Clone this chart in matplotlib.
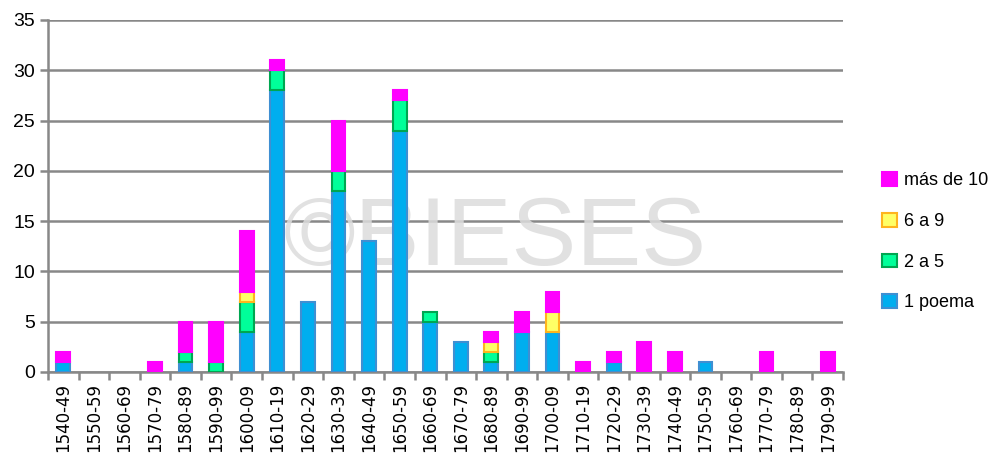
import numpy as np
from matplotlib import pyplot as plt

decades = ['1540-49', '1550-59', '1560-69', '1570-79', '1580-89', '1590-99',
           '1600-09', '1610-19', '1620-29', '1630-39', '1640-49', '1650-59',
           '1660-69', '1670-79', '1680-89', '1690-99', '1700-09', '1710-19',
           '1720-29', '1730-39', '1740-49', '1750-59', '1760-69', '1770-79',
           '1780-89', '1790-99']
un_poema = [1, 0, 0, 0, 1, 0, 4, 28, 7, 18, 13, 24, 5, 3, 1, 4, 4, 0, 1, 0, 0, 1, 0, 0, 0, 0]
dos_a_cinco = [0, 0, 0, 0, 1, 1, 3, 2, 0, 2, 0, 3, 1, 0, 1, 0, 0, 0, 0, 0, 0, 0, 0, 0, 0, 0]
seis_a_nueve = [0, 0, 0, 0, 0, 0, 1, 0, 0, 0, 0, 0, 0, 0, 1, 0, 2, 0, 0, 0, 0, 0, 0, 0, 0, 0]
mas_de_diez = [1, 0, 0, 1, 3, 4, 6, 1, 0, 5, 0, 1, 0, 0, 1, 2, 2, 1, 1, 3, 2, 0, 0, 2, 0, 2]

series = [('1 poema', un_poema, '#00aeef', '#3f8fd2'),
          ('2 a 5', dos_a_cinco, '#00ff99', '#00a651'),
          ('6 a 9', seis_a_nueve, '#ffff66', '#ffb41e'),
          ('más de 10', mas_de_diez, '#ff00ff', '#ff00ff')]

fig = plt.figure(figsize=(9.96, 4.62), dpi=100)
ax = fig.add_axes([48/996, 1 - 372/462, (843-48)/996, (372-20)/462])

x = np.arange(len(decades))
bottom = np.zeros(len(decades))
handles = []
for name, vals, fc, ec in series:
    vals = np.array(vals, dtype=float)
    nz = vals > 0
    # skip empty segments so no stray edge lines are drawn
    b = ax.bar(x[nz], vals[nz], 0.45, bottom=bottom[nz], color=fc, edgecolor=ec,
               linewidth=1.5, label=name, zorder=3)
    handles.append(b)
    bottom += vals

# watermark
ax.text(0.562, 0.375, '©BIESES', transform=ax.transAxes, fontsize=70,
        color='#dcdcdc', ha='center', va='center', zorder=1,
        family='Liberation Sans', alpha=0.85)

ax.set_xlim(-0.5, len(decades) - 0.5)
ax.set_ylim(0, 35)
ax.set_yticks(range(0, 36, 5))
ax.yaxis.grid(True, color='#888888', linewidth=1.8, zorder=0)
ax.set_axisbelow(True)

ax.set_xticks(x)
ax.set_xticklabels(decades, rotation=90, fontsize=12, family='DejaVu Sans')
ax.set_xticks(np.arange(-0.5, len(decades)), minor=True)
ax.tick_params(axis='x', which='major', length=0, pad=8)
ax.tick_params(axis='x', which='minor', length=6, width=1.8, color='#888888')
ax.tick_params(axis='y', length=6, width=1.8, color='#888888', labelsize=14)
for lab in ax.get_yticklabels():
    lab.set_family('Liberation Sans')

for s in ['top', 'right']:
    ax.spines[s].set_visible(False)
for s in ['left', 'bottom']:
    ax.spines[s].set_color('#888888')
    ax.spines[s].set_linewidth(1.8)

leg = fig.legend(handles[::-1], [h.get_label() for h in handles[::-1]],
                 loc='upper left', bbox_to_anchor=(866/996, 1 - 156/462),
                 frameon=False, handlelength=0.8, handleheight=0.8,
                 labelspacing=1.3, handletextpad=0.4,
                 prop={'family': 'Liberation Sans', 'size': 13})

plt.savefig('out.png', dpi=100)
